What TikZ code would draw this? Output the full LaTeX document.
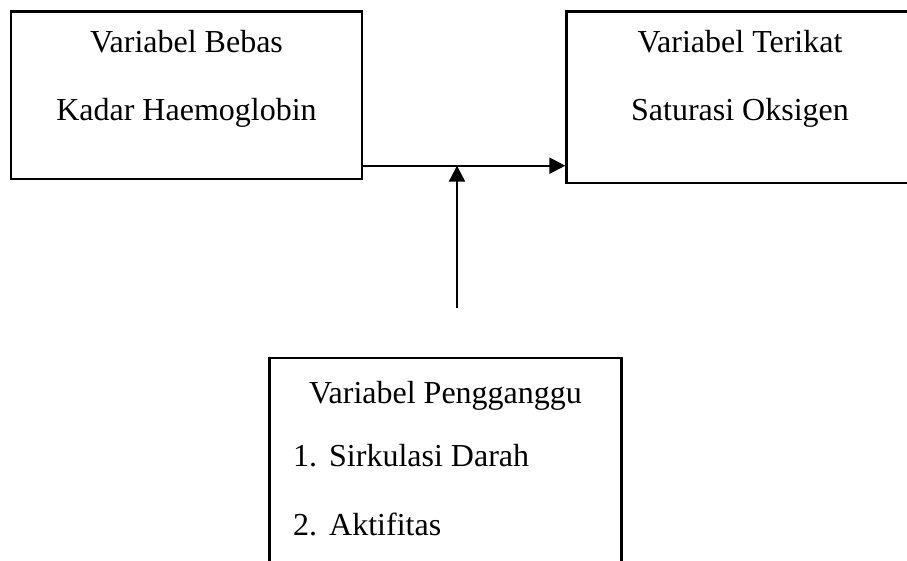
\documentclass[tikz,border=0pt]{standalone}
\usepackage{fontspec}
\setmainfont{Liberation Serif}
\usetikzlibrary{arrows.meta,positioning,calc}
\tikzset{varbox/.style={draw,rectangle,inner sep=0pt,line width=2.4pt},
  vartext/.style={inner sep=0pt,anchor=base}}
\begin{document}
\begin{tikzpicture}[x=1pt,y=-1pt,font=\fontsize{32}{40}\selectfont,
  >={Triangle[length=16pt,width=16pt]},line width=2.4pt]
\useasboundingbox (0,0) rectangle (907,560);
% the three variable boxes
\node[varbox,minimum width=351pt,minimum height=167.5pt] (bebas) at (186.5,95.3) {};
\node[varbox,minimum width=351pt,minimum height=171.3pt] (terikat) at (742,97.3) {};
\node[varbox,minimum width=352pt,minimum height=220pt] (ganggu) at (445.5,467.7) {};
% texts
\node[vartext] (bebasjudul) at (186.5,52) {Variabel Bebas};
\node[vartext] (bebasisi) at (186.5,120) {Kadar Haemoglobin};
\node[vartext] (terikatjudul) at (740,52) {Variabel Terikat};
\node[vartext] (terikatisi) at (740,120) {Saturasi Oksigen};
\node[vartext] (ganggujudul) at (445.5,403) {Variabel Pengganggu};
\node[vartext,anchor=base west] (ganggusatu) at (292,466) {\makebox[36pt][l]{1.}Sirkulasi Darah};
\node[vartext,anchor=base west] (ganggudua) at (292,535) {\makebox[36pt][l]{2.}Aktifitas};
% arrows
\coordinate (temu) at (457,165.7);
\coordinate (ekor) at (457,308);
\draw[->] (bebas.east |- temu) -- (terikat.west |- temu);
\draw[->] (ekor) -- (temu);
\end{tikzpicture}
\end{document}
